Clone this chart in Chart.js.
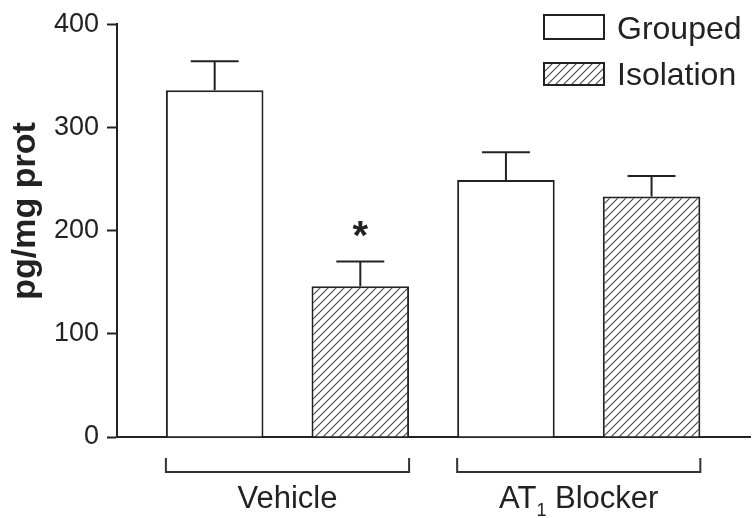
<!DOCTYPE html>
<html>
<head>
<meta charset="utf-8">
<script src="https://cdn.jsdelivr.net/npm/chart.js@4.4.1/dist/chart.umd.min.js"></script>
<style>
  html, body { margin: 0; padding: 0; background: #fff; }
  #wrap { width: 752px; height: 518px; }
</style>
</head>
<body>
<div id="wrap"><canvas id="chart" width="752" height="518"></canvas></div>
<script>
// values: pg/mg prot, mean + SEM
const groups = ["Vehicle", "AT₁ Blocker"];
const groupPos = [1, 2];
const seriesNames = ["Grouped", "Isolation"];
const groupedMean = [336, 249];
const groupedSem = [28, 27];
const isolationMean = [146, 233];
const isolationSem = [24, 20];
const yTicks = [0, 100, 200, 300, 400];
const starred = [[1, 0]]; // [dataset, group] marked with *

const FONT = '"Liberation Sans", Arial, Helvetica, sans-serif';
const INK = "#222";

// "/" hatching used for the isolation bars
function makeHatch() {
  const c = document.createElement("canvas");
  c.width = 8; c.height = 8;
  const g = c.getContext("2d");
  g.fillStyle = "#fff";
  g.fillRect(0, 0, 8, 8);
  g.strokeStyle = "#444";
  g.lineWidth = 1.1;
  g.beginPath();
  g.moveTo(0, 8); g.lineTo(8, 0);
  g.moveTo(-1, 1); g.lineTo(1, -1);
  g.moveTo(7, 9); g.lineTo(9, 7);
  g.stroke();
  return g.createPattern(c, "repeat");
}
const hatch = makeHatch();

const errorBars = {
  id: "errorBars",
  afterDatasetsDraw(chart) {
    const ctx = chart.ctx, y = chart.scales.y;
    const sems = [groupedSem, isolationSem];
    ctx.save();
    ctx.strokeStyle = INK;
    ctx.lineWidth = 2;
    chart.data.datasets.forEach((ds, di) => {
      chart.getDatasetMeta(di).data.forEach((bar, i) => {
        const top = y.getPixelForValue(ds.data[i].y + sems[di][i]);
        ctx.beginPath();
        ctx.moveTo(bar.x, bar.y);
        ctx.lineTo(bar.x, top);
        ctx.moveTo(bar.x - 24, top);
        ctx.lineTo(bar.x + 24, top);
        ctx.stroke();
      });
    });
    // significance marks
    ctx.fillStyle = INK;
    ctx.font = "bold 40px " + FONT;
    ctx.textAlign = "center";
    ctx.textBaseline = "alphabetic";
    starred.forEach(([di, i]) => {
      const bar = chart.getDatasetMeta(di).data[i];
      const top = y.getPixelForValue(chart.data.datasets[di].data[i].y + sems[di][i]);
      ctx.fillText("*", bar.x, top - 13);
    });
    ctx.restore();
  }
};

const decorations = {
  id: "decorations",
  afterDraw(chart) {
    const ctx = chart.ctx, area = chart.chartArea;
    const m0 = chart.getDatasetMeta(0), m1 = chart.getDatasetMeta(1);
    ctx.save();
    ctx.strokeStyle = "#333";
    ctx.fillStyle = INK;
    ctx.lineWidth = 2;

    // group brackets and labels under the axis
    groups.forEach((name, i) => {
      const l = m0.data[i].x - m0.data[i].width / 2;
      const r = m1.data[i].x + m1.data[i].width / 2;
      const yb = area.bottom + 35;
      ctx.beginPath();
      ctx.moveTo(l, area.bottom + 21);
      ctx.lineTo(l, yb);
      ctx.lineTo(r, yb);
      ctx.lineTo(r, area.bottom + 21);
      ctx.stroke();

      const parts = name.split("₁");
      const big = "31px " + FONT, small = "18px " + FONT;
      ctx.font = big;
      const w0 = ctx.measureText(parts[0]).width;
      const w2 = parts.length > 1 ? ctx.measureText(parts[1]).width : 0;
      ctx.font = small;
      const w1 = parts.length > 1 ? ctx.measureText("1").width : 0;
      let x = (l + r) / 2 - (w0 + w1 + w2) / 2;
      const base = area.bottom + 71;
      ctx.textAlign = "left";
      ctx.textBaseline = "alphabetic";
      ctx.font = big;
      ctx.fillText(parts[0], x, base);
      if (parts.length > 1) {
        ctx.font = small;
        ctx.fillText("1", x + w0, base + 8);
        ctx.font = big;
        ctx.fillText(parts[1], x + w0 + w1, base);
      }
    });

    // legend, top right
    const bx = area.right - 206;
    [[15, 39], [63, 85]].forEach(([top, bottom], i) => {
      const ds = chart.data.datasets[i];
      ctx.fillStyle = ds.backgroundColor;
      ctx.fillRect(bx, top, 60, bottom - top);
      ctx.strokeStyle = INK;
      ctx.strokeRect(bx, top, 60, bottom - top);
      ctx.fillStyle = INK;
      ctx.font = "32px " + FONT;
      ctx.textAlign = "left";
      ctx.textBaseline = "alphabetic";
      ctx.fillText(ds.label, bx + 73, bottom);
    });

    // y axis title
    ctx.translate(35, 211);
    ctx.rotate(-Math.PI / 2);
    ctx.font = "bold 34px " + FONT;
    ctx.textAlign = "center";
    ctx.fillText("pg/mg prot", 0, 0);
    ctx.restore();
  }
};

new Chart(document.getElementById("chart"), {
  type: "bar",
  data: {
    datasets: [
      {
        label: seriesNames[0],
        data: groupPos.map((x, i) => ({ x, y: groupedMean[i] })),
        backgroundColor: "#fff",
        borderColor: INK,
        borderWidth: 2
      },
      {
        label: seriesNames[1],
        data: groupPos.map((x, i) => ({ x, y: isolationMean[i] })),
        backgroundColor: hatch,
        borderColor: INK,
        borderWidth: 2
      }
    ]
  },
  options: {
    responsive: false,
    animation: false,
    devicePixelRatio: 1,
    categoryPercentage: 1.0,
    barPercentage: 0.67,
    layout: { padding: { top: 18, right: 2, bottom: 0, left: 0 } },
    plugins: { legend: { display: false }, tooltip: { enabled: false } },
    scales: {
      x: {
        type: "linear",
        offset: false,
        min: 0.4146,
        max: 2.588,
        afterBuildTicks: s => { s.ticks = groupPos.map(v => ({ value: v })); },
        afterFit: s => { s.height = 81; },
        grid: { display: false, offset: false },
        border: { display: true, color: INK, width: 2 },
        ticks: { display: false }
      },
      y: {
        min: 0,
        max: 400,
        afterBuildTicks: s => { s.ticks = yTicks.map(v => ({ value: v })); },
        afterFit: s => { s.width = 117; },
        grid: { drawOnChartArea: false, drawTicks: true, tickLength: 10, tickWidth: 2, tickColor: INK },
        border: { display: true, color: INK, width: 2 },
        ticks: { color: INK, padding: 8, font: { family: FONT, size: 27 } }
      }
    }
  },
  plugins: [errorBars, decorations]
});
</script>
</body>
</html>
